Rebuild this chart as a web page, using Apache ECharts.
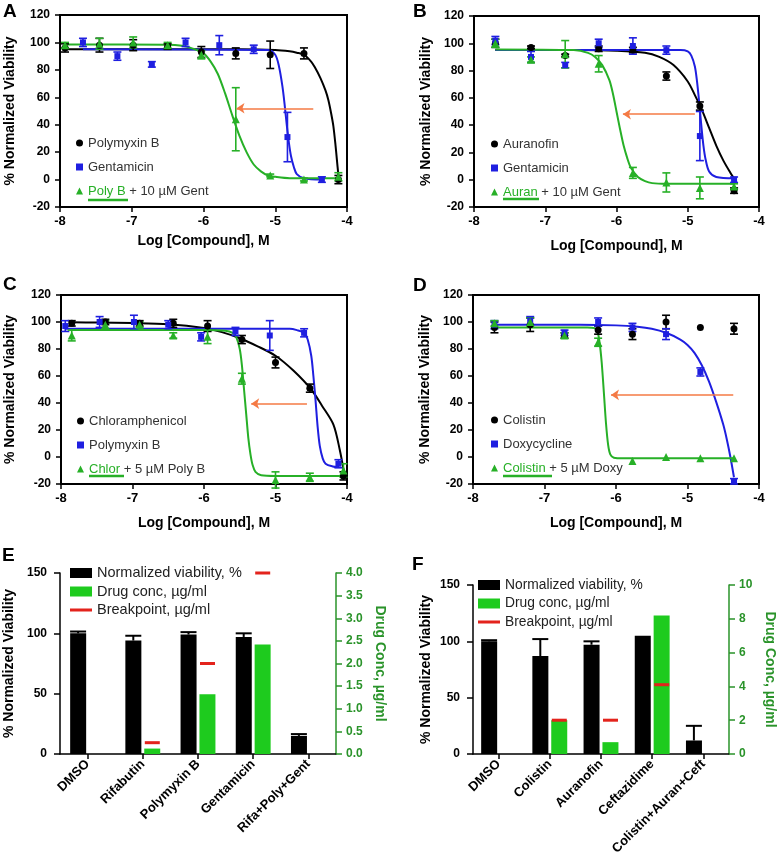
<!DOCTYPE html>
<html><head><meta charset="utf-8">
<script src="https://cdn.jsdelivr.net/npm/echarts/dist/echarts.min.js"></script>
<style>html,body{margin:0;padding:0;background:#fff}#c{width:783px;height:857px}</style>
</head><body><div id="c"></div>
<script>
// ---------------- Panel A ----------------
const A_polyX = [-7.93,-7.45,-6.98,-6.5,-6.03,-5.55,-5.07,-4.6,-4.12];
const A_polyY = [96,98,98,97,93,92,91,92,0];
const A_polyE = [3,5,4,2,4,4,10,4,3];
const A_gentX = [-7.68,-7.2,-6.72,-6.25,-5.78,-5.3,-4.83,-4.35];
const A_gentY = [100,90,84,100,98,95,31,0];
const A_gentE = [3,3,2,3,7,3,18,2];
const A_combY = [98,99,100,98,91,44,3,0,2];
const A_combE = [2,4,4,2,3,23,1,1,3];
const A_cPolyX = [-7.93,-5.5,-5.0,-4.8,-4.7,-4.6,-4.5,-4.45,-4.37,-4.3,-4.26,-4.22,-4.19,-4.16,-4.14,-4.12];
const A_cPolyY = [95,95,94.5,93.5,92.5,91,86,82,74,65,58,48,39,25,14,3];
const A_cGentX = [-7.68,-5.1,-5.0,-4.95,-4.9,-4.87,-4.84,-4.81,-4.78,-4.74,-4.7,-4.6,-4.35];
const A_cGentY = [95,94.5,91,83,68,55,40,27,17,9,4,1,0];
const A_cCombX = [-7.93,-6.5,-6.3,-6.15,-6.0,-5.9,-5.8,-5.7,-5.6,-5.5,-5.4,-5.3,-5.2,-5.1,-5.0,-4.8,-4.12];
const A_cCombY = [98.5,98.3,97.5,95.5,92,86,77,63,47,32,20,11,6,3,2,1,1];
const A_arrow = [-4.47,-5.54,52];

// ---------------- Panel B ----------------
const B_x = [-7.7,-7.2,-6.72,-6.25,-5.77,-5.3,-4.83,-4.35];
const B_auraY = [100,97,91,96,95,76,54,-8];
const B_auraE = [3,1,1,2,2,3,3,2];
const B_gentY = [102,90,84,100,98,95,32,0];
const B_gentE = [3,4,2,3,6,3,18,2];
const B_combY = [100,88,92,85,5,-2,-6,-5];
const B_combE = [3,2,10,6,4,7,8,2];
const B_cAuraX = [-7.7,-6.5,-6,-5.6,-5.4,-5.2,-5.0,-4.9,-4.8,-4.7,-4.6,-4.5,-4.4,-4.35];
const B_cAuraY = [95,95,94.5,93,90,84,72,62,51,38,25,14,5,1];
const B_cGentX = [-7.7,-5.1,-5.0,-4.95,-4.9,-4.87,-4.84,-4.81,-4.78,-4.75,-4.7,-4.6,-4.35];
const B_cGentY = [95,95,94,91,83,72,57,40,25,15,6,2,1];
const B_cCombX = [-7.7,-6.6,-6.4,-6.3,-6.2,-6.1,-6.05,-6.0,-5.95,-5.9,-5.85,-5.8,-5.7,-5.6,-5.5,-5.3,-4.35];
const B_cCombY = [95.5,95,93,90,84,73,63,50,37,25,16,9,2,-1,-2.5,-3,-3];
const B_arrow = [-4.9,-5.91,48];

// ---------------- Panel C ----------------
const C_chlX = [-7.85,-7.38,-6.9,-6.43,-5.95,-5.47,-5.0,-4.52,-4.05];
const C_chlY = [99,100,99,99,97,87,70,51,-14];
const C_chlE = [2,2,2,3,4,3,4,3,3];
const C_polyX = [-7.94,-7.46,-6.98,-6.5,-6.04,-5.56,-5.08,-4.6,-4.12];
const C_polyY = [97,100,100,98,89,93,90,92,-5];
const C_polyE = [4,4,5,3,3,3,11,3,3];
const C_combY = [90,98,98,90,89,58,-17,-15,-10];
const C_combE = [4,3,2,2,5,4,6,3,5];
const C_cChlX = [-7.85,-7.5,-7,-6.5,-6,-5.75,-5.5,-5.25,-5,-4.75,-4.5,-4.35,-4.19,-4.1,-4.04];
const C_cChlY = [99.8,99.6,99.2,98.3,95.5,92.5,88,82,75,64,50,38,24,5,-12];
const C_cPolyX = [-7.94,-4.8,-4.7,-4.6,-4.55,-4.5,-4.47,-4.44,-4.41,-4.38,-4.34,-4.3,-4.2,-4.12];
const C_cPolyY = [95,95,94,92,87,75,60,42,22,8,-1,-5,-7,-7.5];
const C_cCombX = [-7.87,-6,-5.7,-5.6,-5.55,-5.5,-5.47,-5.44,-5.41,-5.38,-5.35,-5.32,-5.28,-5.2,-5.0,-4.05];
const C_cCombY = [94,94,93.5,92,89,80,68,50,32,14,2,-6,-11,-13.5,-14,-14];
const C_arrow = [-4.56,-5.34,39.5];

// ---------------- Panel D ----------------
const D_x = [-7.7,-7.2,-6.72,-6.25,-5.77,-5.3,-4.82,-4.35];
const D_colY = [96,98,90,94,91,100,96,95];
const D_colE = [4,5,2,3,4,5,0,4];
const D_doxY = [98,101,92,100,96,91,63,-18];
const D_doxE = [3,3,2,3,3,4,3,2];
const D_combY = [99,100,90,85,-3,0,-1,-1];
const D_combE = [2,3,2,3,0,0,0,0];
const D_cDoxX = [-7.7,-6.5,-6,-5.7,-5.5,-5.3,-5.1,-5.0,-4.9,-4.8,-4.7,-4.6,-4.5,-4.45,-4.4,-4.35];
const D_cDoxY = [98,98,97.5,96.5,95,92,87,83,77,68,56,41,24,13,0,-15];
const D_cCombX = [-7.7,-6.4,-6.3,-6.26,-6.23,-6.2,-6.17,-6.14,-6.11,-6.08,-6.03,-5.9,-4.35];
const D_cCombY = [96,96,95.5,93,85,70,48,25,9,2,-0.5,-1,-1];
const D_arrow = [-4.36,-6.07,46];

// ---------------- Panel E ----------------
const E_cats = ['DMSO','Rifabutin','Polymyxin B','Gentamicin','Rifa+Poly+Gent'];
const E_viab = [100,94,99,97,15];
const E_viabErr = [1.5,4,2,3,1.5];
const E_conc = [null,0.12,1.32,2.42,null];
const E_break = [null,0.25,2.0,4.0,null];

// ---------------- Panel F ----------------
const F_cats = ['DMSO','Colistin','Auranofin','Ceftazidime','Colistin+Auran+Ceft'];
const F_viab = [100,87,97,105,12];
const F_viabErr = [1,15,3,0,13];
const F_conc = [null,2.0,0.7,8.2,null];
const F_break = [null,2.0,2.0,4.1,null];

// ---------------- styling ----------------
const FONT = '"Liberation Sans", Arial, sans-serif';
const K='#000000', BL='#1f1fe0', GR='#27b027', OR='#f47a45';
const BARGR='#1ecb1e', RED='#e3231c', AXGR='#2a932a';

const zip = (xs, ys) => xs.map((x,i)=>[x, ys[i]]);
const zip3 = (xs, ys, es) => xs.map((x,i)=>[x, ys[i], es[i]]);

const labelMap = {
  A1:'Polymyxin B', A2:'Gentamicin', A3:'{u|Poly B}{t| + 10 µM Gent}',
  B1:'Auranofin', B2:'Gentamicin', B3:'{u|Auran}{t| + 10 µM Gent}',
  C1:'Chloramphenicol', C2:'Polymyxin B', C3:'{u|Chlor}{t| + 5 µM Poly B}',
  D1:'Colistin', D2:'Doxycycline', D3:'{u|Colistin}{t| + 5 µM Doxy}',
  E1:'Normalized viability, %', E2:'Drug conc, µg/ml', E3:'Breakpoint, µg/ml',
  F1:'Normalized viability, %', F2:'Drug conc, µg/ml', F3:'Breakpoint, µg/ml'
};

const dosePanels = [
  {grid:{left:60,top:15,width:287,height:192}, leg:{left:76,top:135}, xGap:27, yGap:43, arrow:A_arrow, s:[
    {name:'A1',color:K,symbol:'circle',size:7,x:A_polyX,y:A_polyY,e:A_polyE,cx:A_cPolyX,cy:A_cPolyY},
    {name:'A2',color:BL,symbol:'rect',size:6,x:A_gentX,y:A_gentY,e:A_gentE,cx:A_cGentX,cy:A_cGentY},
    {name:'A3',color:GR,symbol:'triangle',size:8,x:A_polyX,y:A_combY,e:A_combE,cx:A_cCombX,cy:A_cCombY}]},
  {grid:{left:474,top:16,width:285,height:191}, leg:{left:491,top:136}, xGap:32, yGap:41, arrow:B_arrow, s:[
    {name:'B1',color:K,symbol:'circle',size:7,x:B_x,y:B_auraY,e:B_auraE,cx:B_cAuraX,cy:B_cAuraY},
    {name:'B2',color:BL,symbol:'rect',size:6,x:B_x,y:B_gentY,e:B_gentE,cx:B_cGentX,cy:B_cGentY},
    {name:'B3',color:GR,symbol:'triangle',size:8,x:B_x,y:B_combY,e:B_combE,cx:B_cCombX,cy:B_cCombY}]},
  {grid:{left:61,top:295,width:286,height:189}, leg:{left:77,top:413}, xGap:32, yGap:44, arrow:C_arrow, s:[
    {name:'C1',color:K,symbol:'circle',size:7,x:C_chlX,y:C_chlY,e:C_chlE,cx:C_cChlX,cy:C_cChlY},
    {name:'C2',color:BL,symbol:'rect',size:6,x:C_polyX,y:C_polyY,e:C_polyE,cx:C_cPolyX,cy:C_cPolyY},
    {name:'C3',color:GR,symbol:'triangle',size:8,x:C_chlX,y:C_combY,e:C_combE,cx:C_cCombX,cy:C_cCombY}]},
  {grid:{left:473,top:295,width:286,height:189}, leg:{left:491,top:412}, xGap:32, yGap:41, arrow:D_arrow, s:[
    {name:'D1',color:K,symbol:'circle',size:7,x:D_x,y:D_colY,e:D_colE,cx:null,cy:null},
    {name:'D2',color:BL,symbol:'rect',size:6,x:D_x,y:D_doxY,e:D_doxE,cx:D_cDoxX,cy:D_cDoxY},
    {name:'D3',color:GR,symbol:'triangle',size:8,x:D_x,y:D_combY,e:D_combE,cx:D_cCombX,cy:D_cCombY}]}
];

function errRender(color, half){
  return function(params, api){
    const x=api.value(0), y=api.value(1), e=api.value(2);
    if(!e) return null;
    const p1=api.coord([x,y+e]), p2=api.coord([x,y-e]);
    const st={stroke:color,lineWidth:1.6};
    return {type:'group', children:[
      {type:'line',shape:{x1:p1[0],y1:p1[1],x2:p2[0],y2:p2[1]},style:st},
      {type:'line',shape:{x1:p1[0]-half,y1:p1[1],x2:p1[0]+half,y2:p1[1]},style:st},
      {type:'line',shape:{x1:p2[0]-half,y1:p2[1],x2:p2[0]+half,y2:p2[1]},style:st}
    ]};
  };
}
function barErr(offset, half){
  return function(params, api){
    const i=api.value(0), v=api.value(1), e=api.value(2);
    if(!e) return null;
    const p0=api.coord([i,v]), p1=api.coord([i,v+e]);
    const x=p0[0]+offset;
    const st={stroke:'#000',lineWidth:2};
    return {type:'group', children:[
      {type:'line',shape:{x1:x,y1:p0[1],x2:x,y2:p1[1]},style:st},
      {type:'line',shape:{x1:x-half,y1:p1[1],x2:x+half,y2:p1[1]},style:st}
    ]};
  };
}

const grids=[], xAxes=[], yAxes=[], series=[], legends=[];
const axisTitle = {fontFamily:FONT,fontSize:14,fontWeight:'bold',color:'#000'};

dosePanels.forEach((p, gi)=>{
  grids.push(Object.assign({show:true,borderColor:'#000',borderWidth:2,backgroundColor:'transparent',containLabel:false,outerBoundsMode:'none'}, p.grid));
  xAxes.push({gridIndex:gi,type:'value',min:-8,max:-4,interval:1,
    axisLine:{show:true,onZero:false,lineStyle:{color:'#000',width:2}},
    axisTick:{show:true,length:5,lineStyle:{color:'#000',width:1.5}},
    axisLabel:{color:'#000',fontFamily:FONT,fontSize:13,fontWeight:'bold',margin:8},
    splitLine:{show:false},
    name:'Log [Compound], M',nameLocation:'middle',nameGap:p.xGap,nameTextStyle:axisTitle});
  yAxes.push({gridIndex:gi,type:'value',min:-20,max:120,interval:20,
    axisLine:{show:true,onZero:false,lineStyle:{color:'#000',width:2}},
    axisTick:{show:true,length:5,lineStyle:{color:'#000',width:1.5}},
    axisLabel:{color:'#000',fontFamily:FONT,fontSize:12,fontWeight:'bold',margin:10},
    splitLine:{show:false},
    name:'% Normalized Viability',nameLocation:'middle',nameGap:p.yGap,nameTextStyle:axisTitle});
  p.s.forEach((s, si)=>{
    if(s.cx){
      const ls = {type:'line',xAxisIndex:gi,yAxisIndex:gi,data:zip(s.cx,s.cy),showSymbol:false,smooth:0.3,
        lineStyle:{color:s.color,width:2},itemStyle:{color:s.color},silent:true,z:2,animation:false};
      if(si===2){
        ls.markLine={silent:true,symbol:['none','arrow'],symbolSize:8,animation:false,
          lineStyle:{color:OR,width:1.5,type:'solid'},label:{show:false},
          data:[[{coord:[p.arrow[0],p.arrow[2]]},{coord:[p.arrow[1],p.arrow[2]]}]]};
      }
      series.push(ls);
    }
    series.push({type:'custom',xAxisIndex:gi,yAxisIndex:gi,data:zip3(s.x,s.y,s.e),
      renderItem:errRender(s.color,4),encode:{x:0,y:1},z:3,silent:true,animation:false});
    series.push({type:'scatter',name:s.name,xAxisIndex:gi,yAxisIndex:gi,data:zip(s.x,s.y),
      symbol:s.symbol,symbolSize:s.size,itemStyle:{color:s.color,opacity:1},z:4,silent:true,animation:false});
  });
  legends.push({orient:'vertical',left:p.leg.left,top:p.leg.top,itemWidth:7,itemHeight:7,itemGap:8,
    selectedMode:false,padding:0,
    data:p.s.map(s=>({name:s.name,icon:s.symbol})),
    formatter:n=>labelMap[n],
    textStyle:{fontFamily:FONT,fontSize:13,color:'#333',lineHeight:16,
      rich:{u:{color:GR,fontFamily:FONT,fontSize:13,lineHeight:16},t:{color:'#333',fontFamily:FONT,fontSize:13,lineHeight:16}}}});
});

const barPanels = [
  {grid:{left:60,top:573,width:276,height:181}, cats:E_cats, viab:E_viab, err:E_viabErr, conc:E_conc, brk:E_break,
   rmax:4, rint:0.5, rfmt:v=>v.toFixed(1), names:['E1','E2','E3'], leg:{left:70,top:565,gap:2.5,fs:14.5}, yGap:44, rGap:37},
  {grid:{left:473,top:585,width:256,height:169}, cats:F_cats, viab:F_viab, err:F_viabErr, conc:F_conc, brk:F_break,
   rmax:10, rint:2, rfmt:v=>String(v), names:['F1','F2','F3'], leg:{left:478,top:577,gap:2.5,fs:13.8}, yGap:40, rGap:34}
];

barPanels.forEach((p, bi)=>{
  const gi = 4+bi;
  const yl = yAxes.length, yr = yAxes.length+1;
  grids.push(Object.assign({show:false,containLabel:false,outerBoundsMode:'none'}, p.grid));
  xAxes.push({gridIndex:gi,type:'category',data:p.cats,
    axisLine:{show:true,lineStyle:{color:'#000',width:1.5}},
    axisTick:{show:true,alignWithLabel:true,length:5,lineStyle:{color:'#000',width:1.5}},
    axisLabel:{color:'#000',fontFamily:FONT,fontSize:13,fontWeight:'bold',rotate:45,interval:0,margin:8,hideOverlap:false},
    splitLine:{show:false}});
  yAxes.push({gridIndex:gi,type:'value',min:0,max:150,interval:50,position:'left',
    axisLine:{show:true,lineStyle:{color:'#000',width:1.5}},
    axisTick:{show:true,length:6,lineStyle:{color:'#000',width:1.5}},
    axisLabel:{color:'#000',fontFamily:FONT,fontSize:12,fontWeight:'bold',margin:13},
    splitLine:{show:false},
    name:'% Normalized Viability',nameLocation:'middle',nameGap:p.yGap,nameTextStyle:axisTitle});
  yAxes.push({gridIndex:gi,type:'value',min:0,max:p.rmax,interval:p.rint,position:'right',
    axisLine:{show:true,lineStyle:{color:AXGR,width:1.5}},
    axisTick:{show:true,length:6,lineStyle:{color:AXGR,width:1.5}},
    axisLabel:{color:AXGR,fontFamily:FONT,fontSize:12,fontWeight:'bold',margin:10,formatter:p.rfmt},
    splitLine:{show:false},
    name:'Drug Conc, µg/ml',nameLocation:'middle',nameRotate:-90,nameGap:p.rGap,
    nameTextStyle:{fontFamily:FONT,fontSize:14,fontWeight:'bold',color:AXGR}});
  series.push({type:'bar',name:p.names[0],xAxisIndex:gi,yAxisIndex:yl,data:p.viab,barWidth:16,barGap:'18%',
    itemStyle:{color:'#000'},z:3,silent:true,animation:false});
  series.push({type:'bar',name:p.names[1],xAxisIndex:gi,yAxisIndex:yr,data:p.conc,barWidth:16,barGap:'18%',
    itemStyle:{color:BARGR},z:3,silent:true,animation:false});
  series.push({type:'scatter',name:p.names[2],xAxisIndex:gi,yAxisIndex:yr,data:p.brk,symbol:'rect',symbolSize:[15,3],
    symbolOffset:[9.5,0],symbolKeepAspect:true,itemStyle:{color:RED,opacity:1},z:5,silent:true,animation:false});
  series.push({type:'custom',xAxisIndex:gi,yAxisIndex:yl,data:p.viab.map((v,i)=>[i,v,p.err[i]]),
    renderItem:barErr(-9.5,8),encode:{x:0,y:1},z:4,silent:true,animation:false});
  legends.push({orient:'vertical',left:p.leg.left,top:p.leg.top,itemWidth:22,itemHeight:10,itemGap:p.leg.gap,
    selectedMode:false,padding:0,
    data:[{name:p.names[0],icon:'rect'},{name:p.names[1],icon:'rect'},
          {name:p.names[2],icon:'path://M0,0L0.1,0M0,3.5L22,3.5L22,6.5L0,6.5ZM21.9,10L22,10'}],
    formatter:n=>labelMap[n],
    textStyle:{fontFamily:FONT,fontSize:p.leg.fs,color:'#222',lineHeight:16}});
});

const letter = (t,x,y)=>({type:'text',left:x,top:y,style:{text:t,fontFamily:FONT,fontSize:19,fontWeight:'bold',fill:'#000'}});
const uline = (x1,x2,y)=>({type:'line',shape:{x1:x1,y1:y,x2:x2,y2:y},style:{stroke:GR,lineWidth:2.5}});

const chart = echarts.init(document.getElementById('c'), null, {renderer:'canvas'});
chart.setOption({
  animation:false,
  backgroundColor:'#ffffff',
  grid:grids, xAxis:xAxes, yAxis:yAxes, series:series, legend:legends,
  graphic:[
    letter('A',3,2), letter('B',413,2), letter('C',3,275), letter('D',413,276),
    letter('E',2,546), letter('F',412,555),
    uline(88,128,200), uline(503,539,199), uline(89,124,476), uline(503,552,476)
  ]
});
</script></body></html>
